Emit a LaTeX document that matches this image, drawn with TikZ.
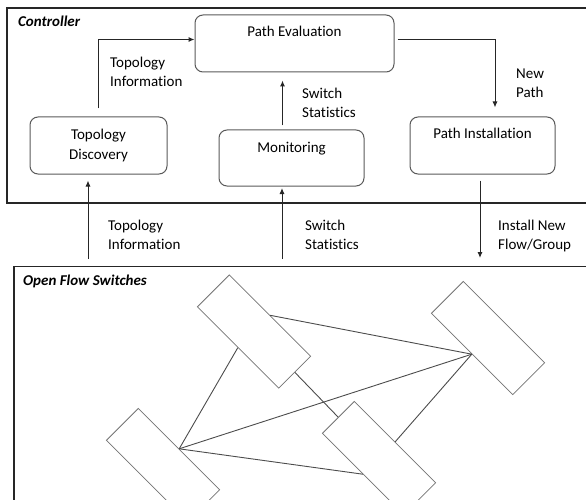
\documentclass[tikz,border=0pt]{standalone}
\usepackage{fontspec}
\setmainfont{Carlito}[Ligatures=NoCommon]
\usetikzlibrary{arrows.meta}
\begin{document}
\begin{tikzpicture}[x=1pt,y=-1pt,
    panel/.style={draw=black!85,line width=1.3pt},
    procbox/.style={rectangle,draw=black!65,line width=1pt,rounded corners=8pt,
      align=center,inner xsep=0pt,inner ysep=0pt,font=\fontsize{15}{19.5}\selectfont},
    toptext/.style={text height=22pt,text depth=#1},
    switchbox/.style={rectangle,draw=black!55,line width=0.8pt,rotate=-45,
      minimum width=115pt,minimum height=45pt,inner sep=0pt},
    link/.style={draw=black!70,line width=0.9pt},
    flow/.style={draw=black!85,line width=1pt,-{Latex[length=6pt,width=5pt]}},
    note/.style={anchor=north west,align=left,inner sep=0pt,font=\fontsize{15}{19.5}\selectfont},
    title/.style={anchor=base west,inner sep=0pt,font=\fontsize{15}{18}\selectfont\bfseries\itshape}]
  \useasboundingbox (0,0) rectangle (586,500);
  \clip (0,0) rectangle (586,500);

  % controller
  \draw[panel] (7,8) rectangle (600,203);
  \node[title] (ctrl) at (18,26.5) {Controller};
  \node[procbox,toptext=35pt,minimum width=199pt] (patheval) at (294.5,43.5) {Path Evaluation};
  \node[procbox,minimum width=137pt,minimum height=57pt] (topodisc) at (98.5,145.5)
       {Topology\\Discovery};
  \node[procbox,toptext=34pt,minimum width=145pt] (monitor) at (291.5,158) {Monitoring};
  \node[procbox,toptext=35pt,minimum width=145pt] (pathinst) at (482.5,145.5) {Path Installation};

  \draw[flow] ([yshift=8pt]topodisc.north) |- ([yshift=4pt]patheval.west);
  \draw[flow,shorten >=8pt] ([shift={(-9pt,4pt)}]monitor.north)
       -- ([xshift=-9pt]monitor.north |- patheval.south);
  \draw[flow] ([shift={(3pt,4pt)}]patheval.east) -| ([shift={(12.5pt,9pt)}]pathinst.north);

  \node[note] (topoinfo) at (110,53.3) {\strut Topology\\\strut Information};
  \node[note] (swstat) at (302,84.3) {\strut Switch\\\strut Statistics};
  \node[note] (newpath) at (516,64.3) {\strut New\\\strut Path};

  % switches
  \draw[panel] (14,266.5) rectangle (600,510);
  \node[title] (ofs) at (23,285.5) {Open Flow Switches};

  \coordinate (tdin) at (88,259);
  \coordinate (mnin) at (282,259);
  \coordinate (inst) at (480,258);
  \draw[flow,shorten >=6pt] (tdin) -- (tdin |- topodisc.south);
  \draw[flow,shorten >=1.5pt] (mnin) -- (mnin |- monitor.south);
  \draw[flow,shorten <=6pt] (inst |- pathinst.south) -- (inst);

  \node[note] (topoinfo2) at (108,216.3) {\strut Topology\\\strut Information};
  \node[note] (swstat2) at (305,216.3) {\strut Switch\\\strut Statistics};
  \node[note] (instflow) at (498,216.3) {\strut Install New\\\strut Flow/Group};

  \node[switchbox] (swa) at (254,331.5) {};
  \node[switchbox] (swb) at (488,338) {};
  \node[switchbox] (swc) at (163,465) {};
  \node[switchbox] (swd) at (379,458) {};

  \draw[link] (swc.north) -- (swa.south);
  \draw[link] (swc.north) -- (swb.south);
  \draw[link] (swc.north) -- (swd.south);
  \draw[link] (swa.north) -- (swb.south);
  \draw[link] (swa.east) -- (swd.west);
  \draw[link] (swd.north) -- (swb.south);
\end{tikzpicture}
\end{document}
